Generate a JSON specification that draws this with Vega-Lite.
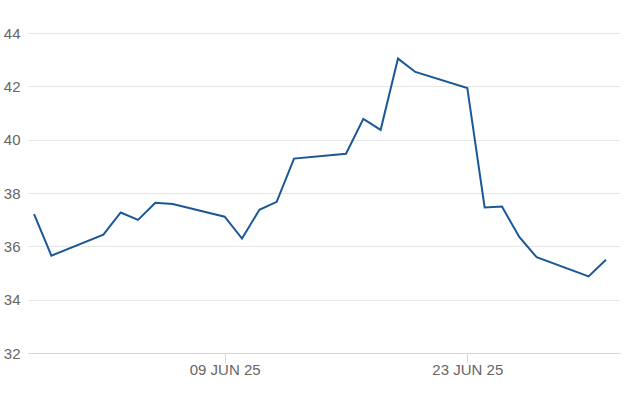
{
  "$schema": "https://vega.github.io/schema/vega-lite/v6.json",
  "width": 592,
  "height": 320,
  "autosize": {"type": "none"},
  "padding": {"left": 28, "top": 33, "right": 6, "bottom": 64},
  "background": "white",
  "config": {"view": {"stroke": null}, "font": "Liberation Sans"},
  "data": {"values": [
    {"date": "2025-05-29", "price": 37.21},
    {"date": "2025-05-30", "price": 35.65},
    {"date": "2025-06-02", "price": 36.44},
    {"date": "2025-06-03", "price": 37.27},
    {"date": "2025-06-04", "price": 36.99},
    {"date": "2025-06-05", "price": 37.63},
    {"date": "2025-06-06", "price": 37.59},
    {"date": "2025-06-09", "price": 37.11},
    {"date": "2025-06-10", "price": 36.29},
    {"date": "2025-06-11", "price": 37.37},
    {"date": "2025-06-12", "price": 37.67},
    {"date": "2025-06-13", "price": 39.29},
    {"date": "2025-06-16", "price": 39.47},
    {"date": "2025-06-17", "price": 40.78},
    {"date": "2025-06-18", "price": 40.37},
    {"date": "2025-06-19", "price": 43.04},
    {"date": "2025-06-20", "price": 42.54},
    {"date": "2025-06-23", "price": 41.94},
    {"date": "2025-06-24", "price": 37.46},
    {"date": "2025-06-25", "price": 37.49},
    {"date": "2025-06-26", "price": 36.35},
    {"date": "2025-06-27", "price": 35.59},
    {"date": "2025-06-30", "price": 34.87},
    {"date": "2025-07-01", "price": 35.5}
  ]},
  "mark": {"type": "line", "color": "#1b5796", "strokeWidth": 2, "clip": true},
  "encoding": {
    "x": {
      "field": "date", "type": "temporal", "title": null,
      "scale": {"type": "utc", "domain": [
        {"year": 2025, "month": "May", "date": 28, "hours": 15, "minutes": 36, "utc": true},
        {"year": 2025, "month": "Jul", "date": 1, "hours": 19, "minutes": 28, "utc": true}
      ]},
      "axis": {
        "values": [
          {"year": 2025, "month": "Jun", "date": 9, "utc": true},
          {"year": 2025, "month": "Jun", "date": 23, "utc": true}
        ],
        "labelExpr": "upper(utcFormat(datum.value, '%d %b %y'))",
        "grid": false,
        "domainColor": "#ccd6eb",
        "tickColor": "#ccd6eb",
        "tickSize": 9,
        "labelPadding": 0,
        "labelFontSize": 15,
        "labelColor": "#666666",
        "labelFont": "Liberation Sans"
      }
    },
    "y": {
      "field": "price", "type": "quantitative", "title": null,
      "scale": {"domain": [32, 44], "zero": false, "nice": false},
      "axis": {
        "values": [32, 34, 36, 38, 40, 42, 44],
        "grid": true,
        "gridColor": "#e6e6e6",
        "domain": false,
        "ticks": false,
        "labelPadding": 8,
        "labelFontSize": 15,
        "labelColor": "#666666",
        "labelFont": "Liberation Sans"
      }
    }
  }
}
